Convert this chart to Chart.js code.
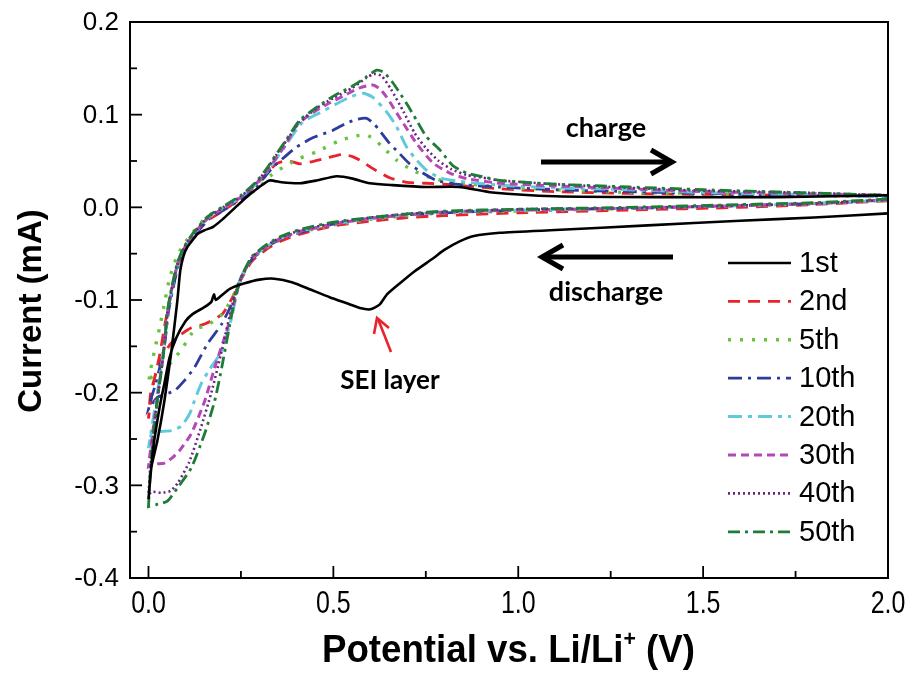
<!DOCTYPE html>
<html>
<head>
<meta charset="utf-8">
<script src="https://cdn.jsdelivr.net/npm/chart.js@4.4.1/dist/chart.umd.min.js"></script>
<style>
  html,body{margin:0;padding:0;background:#fff;}
  #wrap{width:911px;height:675px;}
</style>
</head>
<body>
<div id="wrap"><canvas id="cv" width="911" height="675"></canvas></div>
<script>
'use strict';

/* ---- axis ticks ---- */
var X_TICKS=[0,0.5,1,1.5,2];
var X_LABELS=['0.0','0.5','1.0','1.5','2.0'];
var X_MINOR=[0.25,0.75,1.25,1.75];
var Y_TICKS=[-0.4,-0.3,-0.2,-0.1,0,0.1,0.2];
var Y_LABELS=['-0.4','-0.3','-0.2','-0.1','0.0','0.1','0.2'];
var Y_MINOR=[-0.35,-0.25,-0.15,-0.05,0.05,0.15];

var CYCLES=['1st','2nd','5th','10th','20th','30th','40th','50th'];

/* ---- [potential V, current mA]; discharge 2.0 -> 0, charge 0 -> 2.0 ---- */
var C1_DIS=[[2.0,-0.0065],[1.8,-0.011],[1.6,-0.0145],[1.35,-0.0195],[1.1,-0.0245],[0.95,-0.0275],[0.88,-0.031],[0.84,-0.037],[0.8,-0.046],[0.77,-0.055],[0.72,-0.069],[0.68,-0.082],[0.645,-0.094],[0.625,-0.105],[0.6,-0.11],[0.575,-0.109],[0.54,-0.104],[0.49,-0.097],[0.44,-0.089],[0.39,-0.081],[0.34,-0.077],[0.3,-0.078],[0.26,-0.082],[0.22,-0.088],[0.195,-0.096],[0.182,-0.1],[0.177,-0.094],[0.17,-0.102],[0.15,-0.108],[0.12,-0.115],[0.1,-0.123],[0.075,-0.141],[0.057,-0.162],[0.043,-0.19],[0.03,-0.216],[0.012,-0.262],[0.0,-0.315]];
var C1_CHG=[[0.0,-0.315],[0.008,-0.28],[0.024,-0.252],[0.043,-0.209],[0.062,-0.155],[0.078,-0.101],[0.086,-0.068],[0.095,-0.052],[0.105,-0.043],[0.118,-0.036],[0.132,-0.029],[0.15,-0.025],[0.175,-0.021],[0.2,-0.013],[0.227,-0.003],[0.265,0.011],[0.3,0.022],[0.327,0.029],[0.36,0.027],[0.409,0.026],[0.455,0.029],[0.509,0.0335],[0.552,0.031],[0.598,0.026],[0.66,0.024],[0.752,0.022],[0.84,0.022],[0.93,0.016],[1.1,0.012],[1.4,0.011],[1.7,0.011],[2.0,0.013]];

var C2_DIS=[[2.0,0.007],[1.8,0.003],[1.6,0.0],[1.3,-0.003],[1.0,-0.006],[0.8,-0.009],[0.7,-0.011],[0.6,-0.015],[0.5,-0.02],[0.41,-0.029],[0.36,-0.036],[0.32,-0.045],[0.28,-0.058],[0.25,-0.078],[0.23,-0.095],[0.2,-0.115],[0.152,-0.126],[0.116,-0.13],[0.085,-0.138],[0.06,-0.147],[0.04,-0.16],[0.02,-0.18],[0.006,-0.2],[0.0,-0.228]];
var C2_CHG=[[0.0,-0.228],[0.006,-0.21],[0.016,-0.185],[0.03,-0.16],[0.045,-0.125],[0.055,-0.105],[0.065,-0.088],[0.08,-0.062],[0.099,-0.045],[0.126,-0.029],[0.162,-0.014],[0.208,-0.002],[0.25,0.01],[0.29,0.024],[0.32,0.037],[0.346,0.047],[0.37,0.05],[0.39,0.049],[0.409,0.047],[0.44,0.049],[0.48,0.053],[0.525,0.057],[0.55,0.055],[0.571,0.051],[0.606,0.042],[0.652,0.032],[0.698,0.027],[0.752,0.026],[0.8,0.025],[0.86,0.023],[0.95,0.02],[1.1,0.017],[1.3,0.015],[1.5,0.014],[1.75,0.013],[2.0,0.012]];

var C5_DIS=[[2.0,0.008],[1.8,0.004],[1.6,0.002],[1.3,-0.001],[1.0,-0.004],[0.8,-0.006],[0.7,-0.009],[0.6,-0.013],[0.5,-0.019],[0.41,-0.027],[0.36,-0.034],[0.32,-0.043],[0.28,-0.056],[0.25,-0.076],[0.23,-0.095],[0.2,-0.115],[0.16,-0.127],[0.125,-0.132],[0.095,-0.15],[0.06,-0.168],[0.03,-0.176],[0.01,-0.182],[0.0,-0.19]];
var C5_CHG=[[0.0,-0.19],[0.006,-0.175],[0.016,-0.155],[0.03,-0.13],[0.045,-0.1],[0.058,-0.075],[0.075,-0.055],[0.095,-0.04],[0.122,-0.026],[0.158,-0.01],[0.205,0.0],[0.25,0.01],[0.28,0.016],[0.3,0.022],[0.33,0.034],[0.363,0.043],[0.409,0.053],[0.455,0.06],[0.517,0.072],[0.56,0.077],[0.59,0.078],[0.615,0.072],[0.633,0.065],[0.671,0.051],[0.714,0.04],[0.769,0.031],[0.83,0.027],[0.95,0.022],[1.1,0.019],[1.3,0.016],[1.5,0.015],[1.75,0.013],[2.0,0.012]];

var C10_DIS=[[2.0,0.008],[1.8,0.004],[1.6,0.002],[1.3,-0.001],[1.0,-0.003],[0.8,-0.006],[0.7,-0.008],[0.6,-0.012],[0.5,-0.018],[0.41,-0.027],[0.36,-0.034],[0.32,-0.043],[0.28,-0.056],[0.25,-0.077],[0.23,-0.1],[0.198,-0.126],[0.16,-0.147],[0.124,-0.173],[0.097,-0.187],[0.07,-0.198],[0.024,-0.205],[0.0,-0.218]];
var C10_CHG=[[0.0,-0.218],[0.008,-0.205],[0.02,-0.19],[0.032,-0.17],[0.043,-0.15],[0.054,-0.113],[0.064,-0.092],[0.08,-0.064],[0.099,-0.046],[0.126,-0.03],[0.162,-0.013],[0.208,-0.002],[0.25,0.009],[0.29,0.022],[0.315,0.033],[0.336,0.043],[0.37,0.055],[0.4,0.065],[0.444,0.075],[0.498,0.083],[0.536,0.091],[0.565,0.095],[0.59,0.096],[0.61,0.09],[0.625,0.083],[0.652,0.069],[0.679,0.058],[0.706,0.047],[0.742,0.037],[0.779,0.029],[0.83,0.025],[0.95,0.022],[1.1,0.019],[1.3,0.017],[1.5,0.015],[1.75,0.013],[2.0,0.012]];

var C20_DIS=[[2.0,0.008],[1.8,0.004],[1.6,0.002],[1.3,-0.001],[1.0,-0.003],[0.8,-0.005],[0.7,-0.008],[0.6,-0.012],[0.5,-0.018],[0.41,-0.026],[0.36,-0.033],[0.32,-0.042],[0.28,-0.055],[0.25,-0.076],[0.235,-0.1],[0.225,-0.119],[0.198,-0.155],[0.165,-0.175],[0.143,-0.19],[0.124,-0.209],[0.111,-0.223],[0.089,-0.236],[0.062,-0.241],[0.024,-0.242],[0.008,-0.245],[0.0,-0.26]];
var C20_CHG=[[0.0,-0.26],[0.006,-0.245],[0.014,-0.225],[0.026,-0.195],[0.04,-0.157],[0.052,-0.113],[0.062,-0.091],[0.078,-0.063],[0.097,-0.045],[0.124,-0.029],[0.16,-0.012],[0.206,0.0],[0.25,0.011],[0.29,0.025],[0.32,0.038],[0.345,0.052],[0.373,0.068],[0.417,0.092],[0.463,0.102],[0.51,0.112],[0.545,0.119],[0.58,0.123],[0.606,0.119],[0.644,0.103],[0.671,0.087],[0.698,0.065],[0.725,0.051],[0.752,0.04],[0.788,0.032],[0.84,0.028],[0.95,0.024],[1.1,0.021],[1.3,0.019],[1.5,0.016],[1.75,0.014],[2.0,0.012]];

var C30_DIS=[[2.0,0.008],[1.8,0.004],[1.6,0.002],[1.3,-0.001],[1.0,-0.003],[0.8,-0.005],[0.7,-0.008],[0.6,-0.012],[0.5,-0.018],[0.41,-0.026],[0.36,-0.033],[0.32,-0.042],[0.28,-0.055],[0.25,-0.077],[0.23,-0.105],[0.214,-0.13],[0.179,-0.173],[0.152,-0.209],[0.116,-0.244],[0.085,-0.262],[0.065,-0.27],[0.043,-0.276],[0.02,-0.277],[0.0,-0.28]];
var C30_CHG=[[0.0,-0.28],[0.006,-0.26],[0.014,-0.235],[0.026,-0.2],[0.04,-0.158],[0.052,-0.112],[0.062,-0.09],[0.078,-0.062],[0.097,-0.044],[0.124,-0.028],[0.16,-0.012],[0.206,0.0],[0.25,0.011],[0.29,0.025],[0.32,0.039],[0.345,0.053],[0.373,0.069],[0.4,0.088],[0.436,0.1],[0.482,0.111],[0.536,0.122],[0.571,0.129],[0.606,0.132],[0.625,0.128],[0.644,0.119],[0.679,0.097],[0.725,0.069],[0.769,0.048],[0.815,0.037],[0.861,0.031],[0.95,0.026],[1.1,0.023],[1.3,0.02],[1.5,0.017],[1.75,0.015],[2.0,0.013]];

var C40_DIS=[[2.0,0.008],[1.8,0.004],[1.6,0.002],[1.3,-0.001],[1.0,-0.002],[0.8,-0.005],[0.7,-0.007],[0.6,-0.011],[0.5,-0.017],[0.41,-0.025],[0.36,-0.032],[0.32,-0.041],[0.28,-0.054],[0.25,-0.076],[0.23,-0.1],[0.195,-0.16],[0.17,-0.2],[0.14,-0.24],[0.11,-0.275],[0.08,-0.297],[0.06,-0.306],[0.035,-0.308],[0.01,-0.307],[0.0,-0.31]];
var C40_CHG=[[0.0,-0.31],[0.005,-0.28],[0.012,-0.248],[0.025,-0.205],[0.04,-0.16],[0.052,-0.112],[0.062,-0.09],[0.078,-0.062],[0.097,-0.043],[0.124,-0.027],[0.16,-0.011],[0.206,0.001],[0.25,0.012],[0.29,0.026],[0.32,0.041],[0.345,0.056],[0.373,0.072],[0.409,0.092],[0.455,0.107],[0.5,0.118],[0.552,0.129],[0.59,0.14],[0.61,0.144],[0.63,0.142],[0.655,0.128],[0.69,0.103],[0.72,0.08],[0.75,0.064],[0.785,0.05],[0.82,0.041],[0.86,0.035],[0.92,0.031],[0.95,0.029],[1.1,0.025],[1.3,0.021],[1.5,0.018],[1.75,0.016],[2.0,0.013]];

var C50_DIS=[[2.0,0.009],[1.8,0.005],[1.6,0.003],[1.3,0.0],[1.0,-0.002],[0.8,-0.004],[0.7,-0.007],[0.6,-0.011],[0.5,-0.016],[0.41,-0.024],[0.36,-0.031],[0.32,-0.04],[0.28,-0.053],[0.25,-0.076],[0.233,-0.1],[0.198,-0.173],[0.179,-0.209],[0.152,-0.244],[0.116,-0.281],[0.078,-0.303],[0.051,-0.317],[0.02,-0.321],[0.0,-0.323]];
var C50_CHG=[[0.0,-0.323],[0.005,-0.285],[0.012,-0.25],[0.025,-0.205],[0.04,-0.16],[0.052,-0.11],[0.062,-0.088],[0.078,-0.06],[0.097,-0.042],[0.124,-0.026],[0.16,-0.01],[0.206,0.002],[0.25,0.013],[0.29,0.027],[0.32,0.042],[0.345,0.057],[0.373,0.073],[0.409,0.094],[0.455,0.108],[0.5,0.12],[0.552,0.131],[0.59,0.141],[0.617,0.148],[0.635,0.146],[0.66,0.135],[0.698,0.112],[0.725,0.094],[0.752,0.076],[0.788,0.062],[0.823,0.045],[0.861,0.037],[0.915,0.032],[0.95,0.029],[1.1,0.025],[1.3,0.022],[1.5,0.019],[1.75,0.016],[2.0,0.013]];

var LOOPS=[[C1_DIS,C1_CHG],[C2_DIS,C2_CHG],[C5_DIS,C5_CHG],[C10_DIS,C10_CHG],[C20_DIS,C20_CHG],[C30_DIS,C30_CHG],[C40_DIS,C40_CHG],[C50_DIS,C50_CHG]];

/* ---- line styles ---- */
var COLORS=['#000000','#e8232b','#66c43f','#2e3c9c','#5fcbd9','#b548b6','#6b2581','#1e7c36'];
var DASHES=[[],[12,8],[3,9],[14,6,3,6],[14,6,4,6],[8,5],[2,3],[12,5,3,5]];
var WIDTHS=[2.6,2.8,3.4,2.8,3,3,2.6,2.8];

var SANS='"Liberation Sans", Arial, sans-serif';
var NOTE='Lato, "Open Sans", sans-serif';

function line(ctx,x1,y1,x2,y2){ctx.beginPath();ctx.moveTo(x1,y1);ctx.lineTo(x2,y2);ctx.stroke();}

var frame={
  id:'frame',
  afterDatasetsDraw:function(chart){
    var ctx=chart.ctx,a=chart.chartArea,sx=chart.scales.x,sy=chart.scales.y;
    ctx.save();
    ctx.strokeStyle='#000';ctx.lineWidth=2;ctx.setLineDash([]);
    ctx.strokeRect(a.left,a.top,a.right-a.left,a.bottom-a.top);
    ctx.lineWidth=1.8;
    for(var i=0;i<X_TICKS.length;i++){var px=sx.getPixelForValue(X_TICKS[i]);line(ctx,px,a.bottom,px,a.bottom-12);}
    for(i=0;i<X_MINOR.length;i++){px=sx.getPixelForValue(X_MINOR[i]);line(ctx,px,a.bottom,px,a.bottom-7);}
    for(i=0;i<Y_TICKS.length;i++){var py=sy.getPixelForValue(Y_TICKS[i]);line(ctx,a.left,py,a.left+12,py);}
    for(i=0;i<Y_MINOR.length;i++){py=sy.getPixelForValue(Y_MINOR[i]);line(ctx,a.left,py,a.left+7,py);}

    ctx.fillStyle='#000';
    // y tick labels
    ctx.font='26px '+SANS;ctx.textAlign='right';ctx.textBaseline='middle';
    for(i=0;i<Y_TICKS.length;i++)ctx.fillText(Y_LABELS[i],a.left-11,sy.getPixelForValue(Y_TICKS[i])+1);
    // x tick labels (condensed)
    ctx.font='32px '+SANS;ctx.textAlign='center';ctx.textBaseline='top';
    for(i=0;i<X_TICKS.length;i++){
      ctx.save();ctx.translate(sx.getPixelForValue(X_TICKS[i]),a.bottom+10);ctx.scale(0.78,1);
      ctx.fillText(X_LABELS[i],0,0);ctx.restore();
    }
    // y title
    ctx.save();ctx.translate(32,311);ctx.rotate(-Math.PI/2);
    ctx.font='bold 33px '+SANS;ctx.textAlign='center';ctx.textBaseline='middle';
    ctx.fillText('Current (mA)',0,0);ctx.restore();
    // x title with superscript +
    ctx.save();
    var t1='Potential vs. Li/Li',t2='+',t3=' (V)';
    ctx.font='bold 38px '+SANS;var w1=ctx.measureText(t1).width,w3=ctx.measureText(t3).width;
    ctx.font='bold 22px '+SANS;var w2=ctx.measureText(t2).width;
    var tot=w1+w2+w3,cond=373/tot;
    ctx.translate(508.5-373/2,662);ctx.scale(cond,1);
    ctx.textAlign='left';ctx.textBaseline='alphabetic';
    ctx.font='bold 38px '+SANS;ctx.fillText(t1,0,0);
    ctx.font='bold 22px '+SANS;ctx.fillText(t2,w1,-16);
    ctx.font='bold 38px '+SANS;ctx.fillText(t3,w1+w2,0);
    ctx.restore();

    // legend
    var ds=chart.data.datasets;
    for(i=0;i<ds.length;i++){
      var ly=263+i*38.4;
      ctx.strokeStyle=ds[i].borderColor;ctx.lineWidth=ds[i].borderWidth;ctx.setLineDash(ds[i].borderDash);
      line(ctx,728,ly,791,ly);
      ctx.setLineDash([]);
      ctx.font='29px '+SANS;ctx.textAlign='left';ctx.textBaseline='middle';ctx.fillStyle='#000';
      ctx.fillText(ds[i].label,799,ly+1);
    }

    // annotations
    ctx.font='bold 27px '+NOTE;ctx.textAlign='center';ctx.textBaseline='middle';ctx.fillStyle='#000';
    ctx.fillText('charge',606,128);
    ctx.fillText('discharge',606,292);
    ctx.font='bold 26px '+NOTE;
    ctx.fillText('SEI layer',390,381);
    ctx.strokeStyle='#000';ctx.lineWidth=5;ctx.lineCap='butt';ctx.lineJoin='miter';
    line(ctx,541,162,670,162);
    ctx.beginPath();ctx.moveTo(651,150);ctx.lineTo(672,162);ctx.lineTo(651,174);ctx.stroke();
    line(ctx,545,257,673,257);
    ctx.beginPath();ctx.moveTo(563,245);ctx.lineTo(542,257);ctx.lineTo(563,269);ctx.stroke();
    // red SEI arrow
    ctx.strokeStyle='#e8232b';ctx.lineWidth=2.6;
    line(ctx,391,352,378,319);
    ctx.beginPath();ctx.moveTo(374,334);ctx.lineTo(377,318);ctx.lineTo(389,328);ctx.stroke();
    ctx.restore();
  }
};

var datasets=[];
for(var k=0;k<CYCLES.length;k++){
  var pts=LOOPS[k][0].concat(LOOPS[k][1]).map(function(p){return{x:p[0],y:p[1]};});
  datasets.push({label:CYCLES[k],data:pts,borderColor:COLORS[k],borderDash:DASHES[k],borderWidth:WIDTHS[k],
    showLine:true,fill:false,pointRadius:0,tension:0.2,order:k===0?0:9-k});
}

new Chart(document.getElementById('cv'),{
  type:'scatter',
  data:{datasets:datasets},
  options:{
    responsive:false,animation:false,
    layout:{padding:{left:130,top:22,right:23,bottom:97}},
    plugins:{legend:{display:false},tooltip:{enabled:false}},
    scales:{
      x:{type:'linear',min:-0.05,max:2.0,display:false},
      y:{type:'linear',min:-0.4,max:0.2,display:false}
    }
  },
  plugins:[frame]
});
</script>
</body>
</html>
